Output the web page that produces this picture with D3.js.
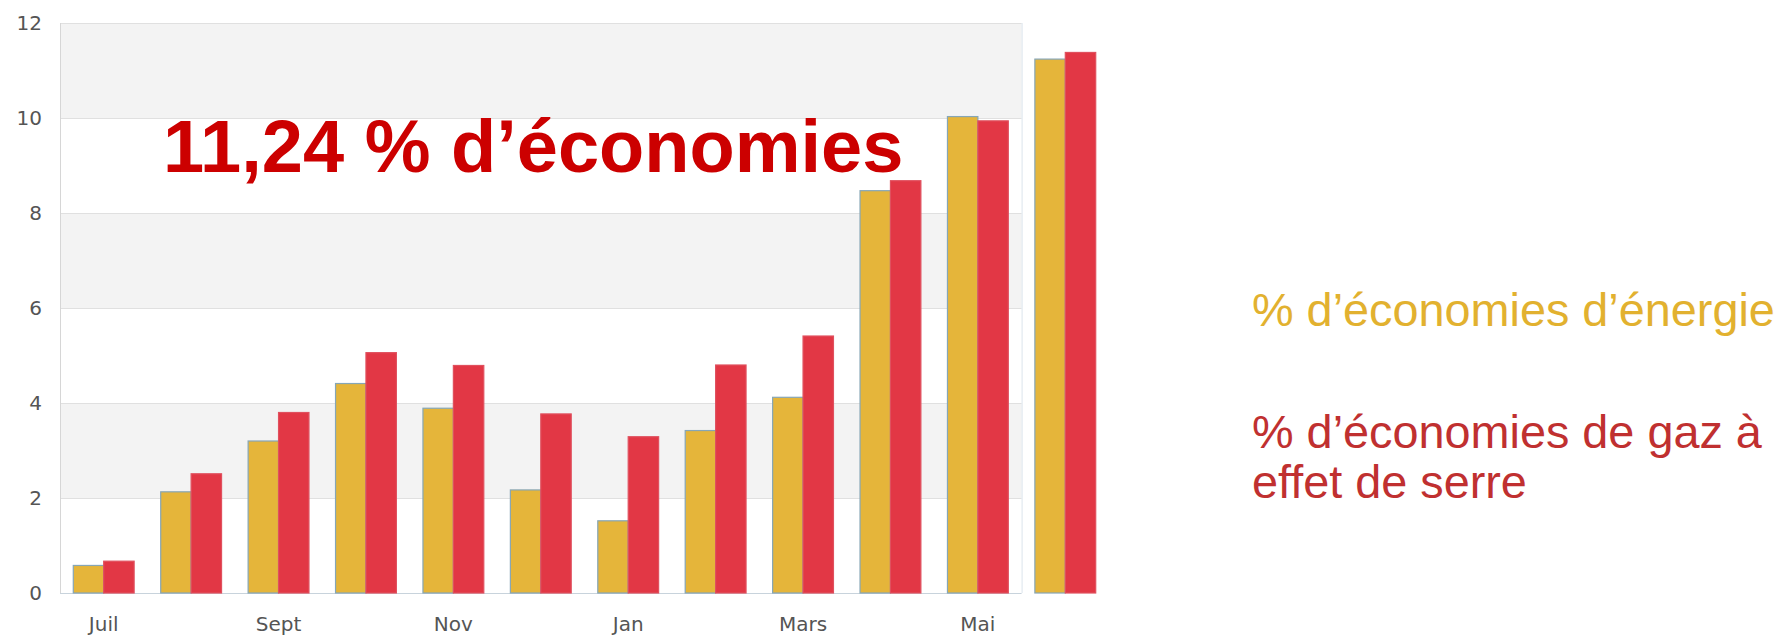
<!DOCTYPE html>
<html>
<head>
<meta charset="utf-8">
<script src="https://cdn.jsdelivr.net/npm/d3@7"></script>
<style>
  body { margin: 0; background: #fff; }
</style>
</head>
<body>
<div id="chart"></div>
<script>
// svg size
var width = 1786, height = 636;

// data
var months = ["Juil", "Août", "Sept", "Oct", "Nov", "Déc", "Jan", "Févr", "Mars", "Avr", "Mai", "Juin"];
var tickMonths = ["Juil", "Sept", "Nov", "Jan", "Mars", "Mai"];
var energie = [0.58, 2.13, 3.2, 4.41, 3.89, 2.17, 1.52, 3.42, 4.12, 8.47, 10.03, 11.24];
var gaz = [0.67, 2.51, 3.8, 5.06, 4.79, 3.77, 3.29, 4.8, 5.41, 8.68, 9.94, 11.38];
var yTicks = [0, 2, 4, 6, 8, 10, 12];
var series = ["energie", "gaz"];

var title = "11,24 % d’économies";
var legendEnergie = ["% d’économies d’énergie"];
var legendGaz = ["% d’économies de gaz à", "effet de serre"];

// colours
var colYellow = "#e5b53a", colRed = "#e23745";

// plot box
var plotLeft = 60, plotTop = 23, plotBottom = 593;

var x = d3.scaleBand()
            .domain(months)
            .range([plotLeft, plotLeft + 1049])
            .paddingInner(0.304)
            .paddingOuter(0.152);

var x1 = d3.scaleBand()
            .domain(series)
            .range([0, x.bandwidth()]);

var y = d3.scaleLinear()
            .domain([0, 12])
            .range([plotBottom, plotTop]);

// plot background only covers the first 11 months
var plotRight = plotLeft + x.step() * 11;

var svg = d3.select("#chart")
            .append("svg")
            .attr("width", width)
            .attr("height", height);

// alternating bands
var bands = [[10, 12], [6, 8], [2, 4]];
svg.append("g")
    .selectAll("rect")
    .data(bands)
    .enter()
        .append("rect")
        .attr("x", plotLeft)
        .attr("width", plotRight - plotLeft)
        .attr("y", function(d){ return y(d[1]); })
        .attr("height", function(d){ return y(d[0]) - y(d[1]); })
        .attr("fill", "#f3f3f3");

// grid lines
svg.append("g")
    .selectAll("line")
    .data(yTicks)
    .enter()
        .append("line")
        .attr("x1", plotLeft)
        .attr("x2", plotRight)
        .attr("y1", function(d){ return y(d) + 0.5; })
        .attr("y2", function(d){ return y(d) + 0.5; })
        .attr("stroke", function(d){ return d == 0 ? "#c8d3dc" : "#e0e0e0"; })
        .attr("stroke-width", 1.2);

// plot edges
svg.append("line")
    .attr("x1", plotLeft + 0.5).attr("x2", plotLeft + 0.5)
    .attr("y1", plotTop).attr("y2", plotBottom)
    .attr("stroke", "#d6d6d6");
svg.append("line")
    .attr("x1", plotRight + 0.5).attr("x2", plotRight + 0.5)
    .attr("y1", plotTop).attr("y2", plotBottom)
    .attr("stroke", "#dbe4ec");

// y axis
var yAxis = d3.axisLeft(y)
                .tickValues(yTicks)
                .tickSize(0)
                .tickPadding(18);

svg.append("g")
    .attr("transform", "translate(" + plotLeft + ",0)")
    .call(yAxis)
    .call(function(g){ g.select(".domain").remove(); })
    .selectAll("text")
        .attr("font-family", "DejaVu Sans, sans-serif")
        .attr("font-size", 20)
        .attr("fill", "#555");

// x axis
var xAxis = d3.axisBottom(x)
                .tickValues(tickMonths)
                .tickSize(0)
                .tickPadding(24);

svg.append("g")
    .attr("transform", "translate(0," + plotBottom + ")")
    .call(xAxis)
    .call(function(g){ g.select(".domain").remove(); })
    .selectAll("text")
        .attr("font-family", "DejaVu Sans, sans-serif")
        .attr("font-size", 20)
        .attr("fill", "#555");

// bars
var rows = months.map(function(m, i){
    return {month: m, values: [{key: "energie", v: energie[i]}, {key: "gaz", v: gaz[i]}]};
});

var groups = svg.append("g")
                .selectAll("g.group")
                .data(rows)
                .enter()
                    .append("g")
                    .attr("class", "group")
                    .attr("transform", function(d){ return "translate(" + x(d.month) + ",0)"; });

groups.selectAll("rect")
    .data(function(d){ return d.values; })
    .enter()
        .append("rect")
        .attr("x", function(d){ return x1(d.key); })
        .attr("width", x1.bandwidth())
        .attr("y", function(d){ return y(d.v); })
        .attr("height", function(d){ return plotBottom - y(d.v); })
        .attr("fill", function(d){ return d.key == "energie" ? colYellow : colRed; })
        .attr("stroke", function(d){ return d.key == "energie" ? "#86a6b6" : "#e0505e"; })
        .attr("stroke-width", 1.2);

// title
svg.append("text")
    .attr("x", 163)
    .attr("y", 172)
    .attr("font-family", "Liberation Sans, Arial, sans-serif")
    .attr("font-weight", "bold")
    .attr("font-size", 74)
    .attr("fill", "#cc0000")
    .text(title);

// legend
var legend = svg.append("g")
                .attr("font-family", "Liberation Sans, Arial, sans-serif")
                .attr("font-size", 46.8);

legend.selectAll("text.l1")
    .data(legendEnergie)
    .enter()
        .append("text")
        .attr("class", "l1")
        .attr("x", 1252)
        .attr("y", function(d, i){ return 326 + i * 50; })
        .attr("fill", "#e2b12f")
        .text(function(d){ return d; });

legend.selectAll("text.l2")
    .data(legendGaz)
    .enter()
        .append("text")
        .attr("class", "l2")
        .attr("x", 1252)
        .attr("y", function(d, i){ return 448 + i * 50; })
        .attr("fill", "#c03030")
        .text(function(d){ return d; });
</script>
</body>
</html>
